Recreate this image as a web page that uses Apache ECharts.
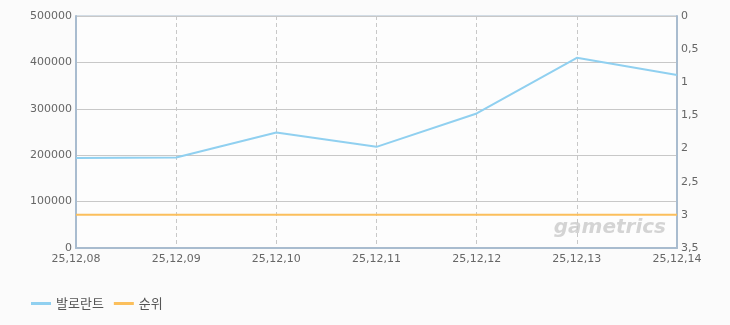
<!DOCTYPE html>
<html><head><meta charset="utf-8">
<script src="https://cdn.jsdelivr.net/npm/echarts@6/dist/echarts.min.js"></script>
<style>html,body{margin:0;padding:0;background:#fbfbfb}#c{width:730px;height:325px}</style>
</head><body><div id="c"></div>
<script>
const categories = ['25,12,08','25,12,09','25,12,10','25,12,11','25,12,12','25,12,13','25,12,14'];
const players = [194000, 195000, 249000, 218000, 290000, 410000, 373000];
const rank = [3, 3, 3, 3, 3, 3, 3];
const leftTicks = [0, 100000, 200000, 300000, 400000, 500000];
const rightTicks = ['0','0,5','1','1,5','2','2,5','3','3,5'];

const chart = echarts.init(document.getElementById('c'));
const lblFont = {color:'#666', fontSize:11, fontFamily:'DejaVu Sans, sans-serif'};
const axisLineCol = '#a9bccf';
chart.setOption({
  backgroundColor:'#fbfbfb',
  animation:false,
  grid:{left:76, right:53, top:16, bottom:77, show:true, backgroundColor:'#fdfdfd', borderColor:axisLineCol, borderWidth:1},
  legend:{
    left:26, top:292, itemWidth:20, itemHeight:10, itemGap:10,
    textStyle:{color:'#555', fontSize:13, fontFamily:'Noto Sans CJK KR, sans-serif'},
    data:[{name:'발로란트', icon:'path://M0,0H20V3H0Z'},{name:'순위', icon:'path://M0,0H20V3H0Z'}]
  },
  graphic:[{type:'text', right:64, top:218, style:{text:'gametrics', fill:'rgba(150,150,150,0.4)', font:'italic bold 20px DejaVu Sans, sans-serif'}}],
  xAxis:{
    type:'category', data:categories, boundaryGap:false,
    axisLine:{lineStyle:{color:axisLineCol, width:2}},
    axisTick:{show:false},
    axisLabel:Object.assign({interval:0, margin:6}, lblFont),
    splitLine:{show:true, lineStyle:{color:'#c8c8c8', type:[4,3], width:1}}
  },
  yAxis:[{
    type:'value', min:0, max:500000, interval:100000,
    axisLine:{show:true, lineStyle:{color:axisLineCol, width:2}},
    axisTick:{show:false},
    axisLabel:Object.assign({margin:4, formatter:v=>String(v)}, lblFont),
    splitLine:{show:true, lineStyle:{color:'#c8c8c8', width:1}}
  },{
    type:'value', min:0, max:3.5, interval:0.5, inverse:true, position:'right',
    axisLine:{show:true, lineStyle:{color:axisLineCol, width:2}},
    axisTick:{show:false},
    axisLabel:Object.assign({margin:4, formatter:(v)=>{const i=Math.round(v/0.5);return rightTicks[i];}}, lblFont),
    splitLine:{show:false}
  }],
  series:[{
    name:'발로란트', type:'line', data:players, yAxisIndex:0,
    symbol:'none', lineStyle:{color:'#90d0f0', width:2}, itemStyle:{color:'#90d0f0'}
  },{
    name:'순위', type:'line', data:rank, yAxisIndex:1,
    symbol:'none', lineStyle:{color:'#fbbf5c', width:2}, itemStyle:{color:'#fbbf5c'}
  }]
});
</script></body></html>
